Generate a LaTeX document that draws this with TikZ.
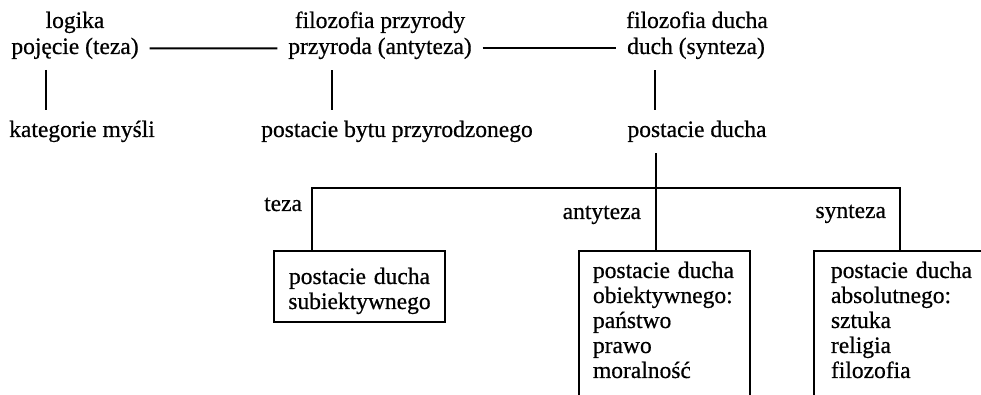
\documentclass[tikz,border=0pt]{standalone}
\usepackage{fontspec}
\setmainfont{Liberation Serif}[FakeBold=0.6]
\tikzset{every picture/.style={/utils/exec={\fontsize{11.75pt}{12.5pt}\selectfont}}}
\usetikzlibrary{calc}
\usetikzlibrary{positioning}

\tikzset{
  term/.style={inner sep=5pt, anchor=base},
  lbl/.style={inner sep=0pt, anchor=base east},
  form/.style={draw, line width=1pt, inner ysep=0pt, anchor=north west},
}

\begin{document}
\begin{tikzpicture}[x=0.5pt, y=-0.5pt, line width=1pt]
  \useasboundingbox (0,0) rectangle (981,395);

  % logika - przyroda - duch
  \node [term] (logika) at (75,28) {logika};
  \node [term] (teza) at (75,54) {pojęcie (teza)};
  \node [term] (kat) at (82,137) {kategorie myśli};

  \node [term] (filprz) at (380,28) {filozofia przyrody};
  \node [term] (antyteza) at (380,54) {przyroda (antyteza)};
  \node [term] (byt) at (397,137) {postacie bytu przyrodzonego};

  \node [term] (fildu) at (697,28) {filozofia ducha};
  \node [term] (synteza) at (696,54) {duch (synteza)};
  \node [term] (duch) at (697,137) {postacie ducha};

  \draw (teza) -- (antyteza);
  \draw (antyteza) -- (synteza);
  \draw ($(teza.south)+(-29,0)$) -- ($(kat.north)+(-36,0)$);
  \draw ($(antyteza.south)+(-48,0)$) -- ($(byt.north)+(-65,0)$);
  \draw ($(synteza.south)+(-41,0)$) -- ($(duch.north)+(-42,0)$);

  % postacie ducha
  \node [form, align=center, inner xsep=0pt, text width=85.5pt,
         text height=16.5pt, text depth=19pt] (subj) at (273,250)
        {postacie ducha\\subiektywnego};
  \node [form, align=left, inner xsep=7pt, text width=71.5pt,
         text height=13.5pt, text depth=72pt] (obj) at (578,250)
        {postacie ducha\\obiektywnego:\\państwo\\prawo\\moralność};
  \node [form, align=left, inner xsep=8.5pt, text width=75pt,
         text height=13.5pt, text depth=72pt] (abs) at (813,250)
        {postacie ducha\\absolutnego:\\sztuka\\religia\\filozofia};

  \coordinate (busL) at (312,188);
  \coordinate (busM) at (656,188);
  \coordinate (busR) at (900,188);
  \draw (busM |- duch.south) -- (busM |- obj.north);
  \draw (busL |- subj.north) -- (busL) -- (busR) -- (busR |- abs.north);

  \node [lbl] (lteza) at (303,211) {teza};
  \node [lbl] (lanty) at (642,219) {antyteza};
  \node [lbl] (lsynt) at (887,218) {synteza};
\end{tikzpicture}
\end{document}
